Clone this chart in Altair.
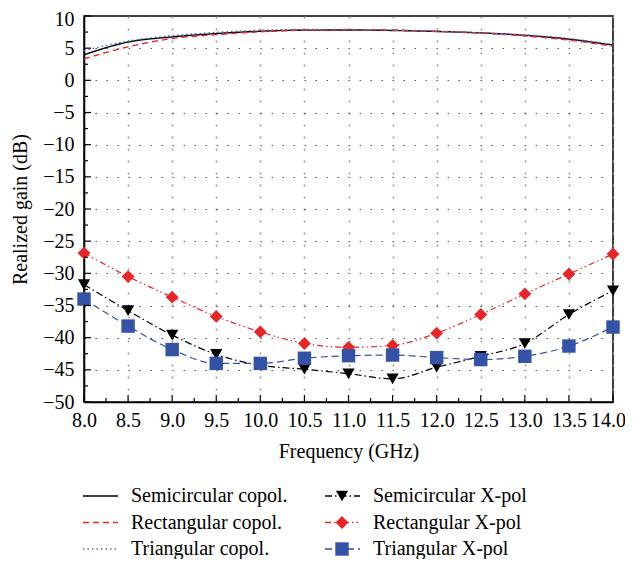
import altair as alt
import pandas as pd

# ---------------- data ----------------
freq = [8.0, 8.5, 9.0, 9.5, 10.0, 10.5, 11.0, 11.5, 12.0, 12.5, 13.0, 13.5, 14.0]

semi_copol = [3.97, 5.95, 6.75, 7.27, 7.63, 7.8, 7.82, 7.75, 7.6, 7.37, 7.0, 6.4, 5.47]
rect_copol = [3.35, 5.2, 6.5, 7.1, 7.55, 7.8, 7.85, 7.8, 7.6, 7.35, 6.9, 6.25, 5.3]
tri_copol = [4.6, 6.1, 6.96, 7.45, 7.78, 7.9, 7.9, 7.8, 7.65, 7.4, 7.05, 6.5, 5.56]

semi_xpol = [-31.75, -35.8, -39.6, -42.6, -44.3, -44.9, -45.6, -46.4, -44.6, -42.9, -40.9, -36.4, -32.7]
rect_xpol = [-26.85, -30.5, -33.7, -36.7, -39.1, -40.9, -41.5, -41.2, -39.3, -36.4, -33.2, -30.1, -27.0]
tri_xpol = [-34.0, -38.2, -41.85, -44.0, -44.0, -43.2, -42.8, -42.7, -43.1, -43.4, -42.9, -41.3, -38.35]

copol_names = ["Semicircular copol.", "Rectangular copol.", "Triangular copol."]
xpol_names = ["Semicircular X-pol", "Rectangular X-pol", "Triangular X-pol"]

x_ticks = [8.0, 8.5, 9.0, 9.5, 10.0, 10.5, 11.0, 11.5, 12.0, 12.5, 13.0, 13.5, 14.0]
x_minor = [8.25, 8.75, 9.25, 9.75, 10.25, 10.75, 11.25, 11.75, 12.25, 12.75, 13.25, 13.75]
y_ticks = [-50, -45, -40, -35, -30, -25, -20, -15, -10, -5, 0, 5, 10]
y_minor = [-47.5, -42.5, -37.5, -32.5, -27.5, -22.5, -17.5, -12.5, -7.5, -2.5, 2.5, 7.5]

# ---------------- styles ----------------
all_names = copol_names + xpol_names
all_colors = ["#000000", "#e8262a", "#4a6cc0", "#000000", "#e8262a", "#3553a6"]
all_dash = [[1, 0], [6, 4], [1.5, 3], [7, 3, 1.5, 3], [6, 3, 1.5, 3, 1.5, 3], [7, 4]]
xpol_shapes = ["triangle-down", "diamond", "square"]
xpol_sizes = [150, 180, 110]

FONT = "Liberation Serif"
FS = 20
W, H = 529, 386

copol_df = pd.DataFrame({
    "freq": freq * 3,
    "gain": semi_copol + rect_copol + tri_copol,
    "series": [n for n in copol_names for _ in freq],
})
xpol_df = pd.DataFrame({
    "freq": freq * 3,
    "gain": semi_xpol + rect_xpol + tri_xpol,
    "series": [n for n in xpol_names for _ in freq],
})

color_scale = alt.Scale(domain=all_names, range=all_colors)
dash_scale = alt.Scale(domain=all_names, range=all_dash)

common_axis = dict(
    ticks=False, grid=True, labelOverlap=False, labelFlush=False,
    labelFont=FONT, labelFontSize=FS, titleFont=FONT, titleFontSize=FS,
    titleFontWeight="normal", labelColor="black", titleColor="black",
    domainColor="black", domainWidth=1.5,
)
x_axis = alt.Axis(
    values=x_ticks, format=".1f", title="Frequency (GHz)",
    gridDash=[2, 10], gridColor="#999999", gridWidth=1.6,
    labelPadding=8, titlePadding=11,
    labelOffset={"condition": {"test": "datum.value >= 14", "value": -5}, "value": 0},
    **common_axis,
)
y_axis = alt.Axis(
    values=y_ticks, title="Realized gain (dB)",
    gridDash=[1.5, 9.5], gridColor="#555555", gridWidth=1,
    labelPadding=10, titlePadding=12,
    labelOffset={"condition": {"test": "datum.value >= 10", "value": 3}, "value": 0},
    **common_axis,
)
x_scale = alt.Scale(domain=[8, 14], nice=False, zero=False)
y_scale = alt.Scale(domain=[-50, 10], nice=False, zero=False)

X = alt.X("freq:Q", scale=x_scale, axis=x_axis)
Y = alt.Y("gain:Q", scale=y_scale, axis=y_axis)

copol = alt.Chart(copol_df).mark_line(strokeWidth=1.4, interpolate="monotone").encode(
    x=X, y=Y,
    color=alt.Color("series:N", scale=color_scale, legend=None),
    strokeDash=alt.StrokeDash("series:N", scale=dash_scale, legend=None),
)

xpol_lines = alt.Chart(xpol_df).mark_line(strokeWidth=1.2, interpolate="monotone").encode(
    x=X, y=Y,
    color=alt.Color("series:N", scale=color_scale, legend=None),
    strokeDash=alt.StrokeDash("series:N", scale=dash_scale, legend=None),
)

xpol_pts = alt.Chart(xpol_df).mark_point(filled=True, opacity=1).encode(
    x=X, y=Y,
    color=alt.Color("series:N", scale=color_scale, legend=None),
    shape=alt.Shape("series:N", scale=alt.Scale(domain=xpol_names, range=xpol_shapes), legend=None),
    size=alt.Size("series:N", scale=alt.Scale(domain=xpol_names, range=xpol_sizes), legend=None),
)

# inward tick marks
xt_df = pd.DataFrame({"freq": x_ticks + x_minor, "len": [7] * len(x_ticks) + [4] * len(x_minor)})
yt_df = pd.DataFrame({"gain": y_ticks + y_minor, "len": [7] * len(y_ticks) + [4] * len(y_minor)})

xt_major = alt.Chart(xt_df).transform_filter("datum.len == 7").mark_rule(color="black", strokeWidth=1.2).encode(
    x=X, y=alt.value(H), y2=alt.value(H - 7))
xt_minor = alt.Chart(xt_df).transform_filter("datum.len == 4").mark_rule(color="black", strokeWidth=1.2).encode(
    x=X, y=alt.value(H), y2=alt.value(H - 4))
yt_major = alt.Chart(yt_df).transform_filter("datum.len == 7").mark_rule(color="black", strokeWidth=1.2).encode(
    y=Y, x=alt.value(0), x2=alt.value(7))
yt_minor = alt.Chart(yt_df).transform_filter("datum.len == 4").mark_rule(color="black", strokeWidth=1.2).encode(
    y=Y, x=alt.value(0), x2=alt.value(4))

main = alt.layer(copol, xpol_lines, xpol_pts, xt_major, xt_minor, yt_major, yt_minor)

# ---------------- legend (two columns below the plot) ----------------
leg_df = pd.DataFrame({
    "series": all_names,
    "col": [0, 0, 0, 1, 1, 1],
    "row": [0, 1, 2, 0, 1, 2],
})
lx = alt.X("col:Q", scale=alt.Scale(domain=[0, 1], range=[-1, 241]), axis=None)
ly = alt.Y("row:Q", scale=alt.Scale(domain=[0, 2], range=[480, 533]), axis=None)

leg_lines = alt.Chart(leg_df).mark_rule(strokeWidth=1.4, x2Offset=35).encode(
    x=lx, x2="col:Q", y=ly,
    color=alt.Color("series:N", scale=color_scale, legend=None),
    strokeDash=alt.StrokeDash("series:N", scale=dash_scale, legend=None),
)
leg_pts = alt.Chart(leg_df).transform_filter("datum.col == 1").mark_point(
    filled=True, opacity=1, xOffset=17).encode(
    x=lx, y=ly,
    color=alt.Color("series:N", scale=color_scale, legend=None),
    shape=alt.Shape("series:N", scale=alt.Scale(domain=xpol_names, range=xpol_shapes), legend=None),
    size=alt.Size("series:N", scale=alt.Scale(domain=xpol_names, range=xpol_sizes), legend=None),
)
leg_text = alt.Chart(leg_df).mark_text(
    align="left", baseline="middle", dx=48, fontSize=FS, font=FONT, color="black").encode(
    x=lx, y=ly, text="series:N")

legend = alt.layer(leg_lines, leg_pts, leg_text)

chart = alt.layer(main, legend).resolve_scale(
    x="independent", y="independent"
).properties(
    width=W, height=H,
    autosize=alt.AutoSizeParams(type="none"),
    padding={"left": 76, "top": 8, "right": 12, "bottom": 157},
).configure_view(
    stroke="black", strokeWidth=1.5
)

chart.save("out.html", embed_options={"renderer": "svg", "actions": False})
